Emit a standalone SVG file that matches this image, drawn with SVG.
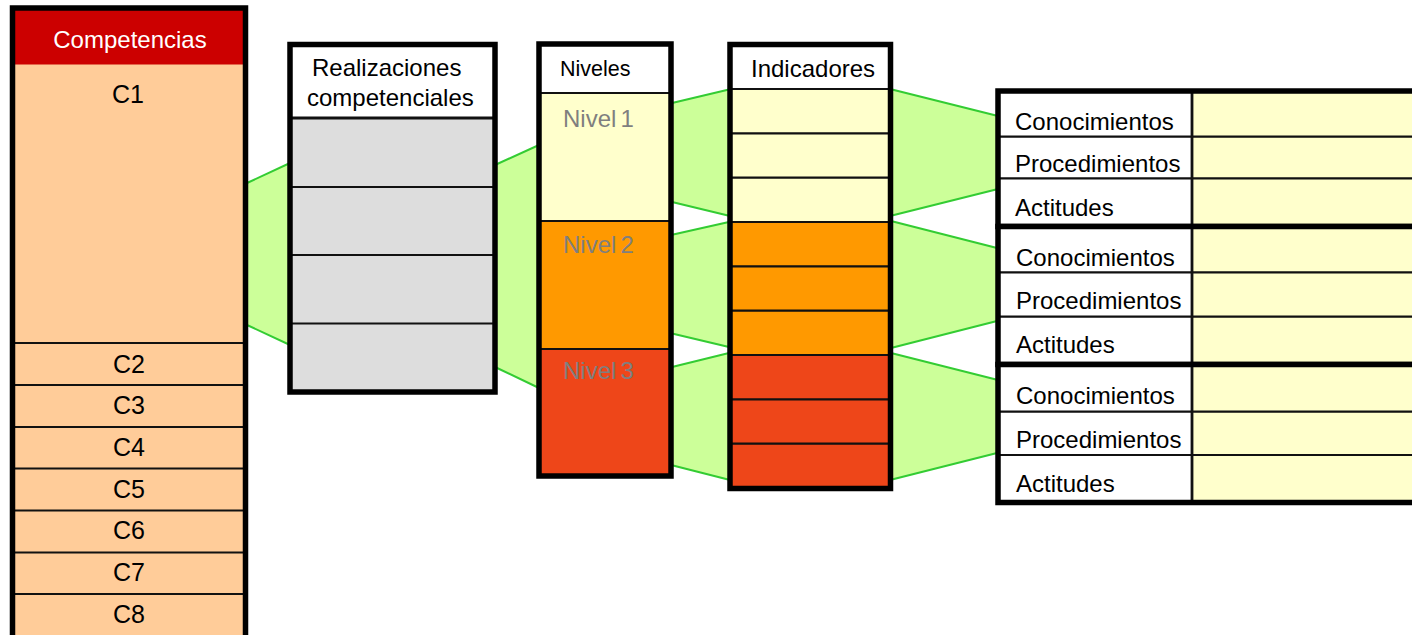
<svg xmlns="http://www.w3.org/2000/svg" width="1412" height="635" viewBox="0 0 1412 635">
<style>
text{font-family:"Liberation Sans",Arial,sans-serif;font-size:24px;fill:#000}
.box{fill:none;stroke:#000;stroke-width:5.5}
.ln{stroke:#111;stroke-width:2.2}
.conn{fill:#CCFF99;stroke:#33CC33;stroke-width:2;stroke-linejoin:round}
.peach{fill:#FFCC99}
.grey{fill:#DDDDDD}
.yel{fill:#FFFFCC}
.org{fill:#FF9900}
.red{fill:#EE4619}
.lvl{fill:#7F7F7F;word-spacing:-2.5px}
.mid{text-anchor:middle}
.c{font-size:25px}
</style>
<g id="connectors">
<polygon class="conn" points="247,183 290,163 290,345 247,325"/>
<polygon class="conn" points="495,165 539,145 539,388 495,367"/>
<polygon class="conn" points="671,103.3 730,89.3 730,216 671,201.7"/>
<polygon class="conn" points="671,235 730,221.7 730,347.3 671,333.3"/>
<polygon class="conn" points="671,367.3 730,352.7 730,480 671,465"/>
<polygon class="conn" points="890,89 998,116 998,189 890,216"/>
<polygon class="conn" points="890,220.7 998,248.3 998,320.7 890,348.3"/>
<polygon class="conn" points="890,352.7 998,380 998,452.7 890,480"/>
</g>
<g id="competencias">
<rect x="12.5" y="8" width="233" height="640" class="peach"/>
<rect x="12.5" y="8" width="233" height="56.5" fill="#CC0000"/>
<line class="ln" x1="12" y1="343" x2="246" y2="343"/>
<line class="ln" x1="12" y1="385" x2="246" y2="385"/>
<line class="ln" x1="12" y1="427" x2="246" y2="427"/>
<line class="ln" x1="12" y1="468.5" x2="246" y2="468.5"/>
<line class="ln" x1="12" y1="510.5" x2="246" y2="510.5"/>
<line class="ln" x1="12" y1="552.5" x2="246" y2="552.5"/>
<line class="ln" x1="12" y1="594" x2="246" y2="594"/>
<rect x="12.5" y="8" width="233" height="640" class="box"/>
<text x="130" y="47.5" class="mid" style="fill:#fff">Competencias</text>
<text x="128" y="103" class="mid c">C1</text>
<text x="129" y="372.7" class="mid c">C2</text>
<text x="129" y="414.3" class="mid c">C3</text>
<text x="129" y="456" class="mid c">C4</text>
<text x="129" y="497.7" class="mid c">C5</text>
<text x="129" y="539.3" class="mid c">C6</text>
<text x="129" y="581" class="mid c">C7</text>
<text x="129" y="623.3" class="mid c">C8</text>
</g>
<g id="realizaciones">
<rect x="290" y="44.5" width="205" height="347.5" fill="#fff"/>
<rect x="290" y="118" width="205" height="274" class="grey"/>
<line class="ln" x1="290" y1="118" x2="495" y2="118" style="stroke-width:3"/>
<line class="ln" x1="290" y1="187" x2="495" y2="187"/>
<line class="ln" x1="290" y1="255" x2="495" y2="255"/>
<line class="ln" x1="290" y1="323.5" x2="495" y2="323.5"/>
<rect x="290" y="44.5" width="205" height="347.5" class="box"/>
<text x="312" y="76">Realizaciones</text>
<text x="307" y="106">competenciales</text>
</g>
<g id="niveles">
<rect x="539" y="44" width="132" height="432" fill="#fff"/>
<rect x="539" y="93" width="132" height="128" class="yel"/>
<rect x="539" y="221" width="132" height="128" class="org"/>
<rect x="539" y="349" width="132" height="127" class="red"/>
<line class="ln" x1="539" y1="93" x2="671" y2="93"/>
<line class="ln" x1="539" y1="221" x2="671" y2="221"/>
<line class="ln" x1="539" y1="349" x2="671" y2="349"/>
<rect x="539" y="44" width="132" height="432" class="box"/>
<text x="560" y="76" style="font-size:21.5px">Niveles</text>
<text x="563" y="127.3" class="lvl">Nivel 1</text>
<text x="563" y="252.7" class="lvl">Nivel 2</text>
<text x="563" y="379.3" class="lvl">Nivel 3</text>
</g>
<g id="indicadores">
<rect x="730" y="44.5" width="160.5" height="444" fill="#fff"/>
<rect x="730" y="89" width="160.5" height="133" class="yel"/>
<rect x="730" y="222" width="160.5" height="133" class="org"/>
<rect x="730" y="355" width="160.5" height="133.5" class="red"/>
<line class="ln" x1="730" y1="89" x2="890" y2="89"/>
<line class="ln" x1="730" y1="133.3" x2="890" y2="133.3"/>
<line class="ln" x1="730" y1="177.7" x2="890" y2="177.7"/>
<line class="ln" x1="730" y1="222" x2="890" y2="222"/>
<line class="ln" x1="730" y1="266.3" x2="890" y2="266.3"/>
<line class="ln" x1="730" y1="310.7" x2="890" y2="310.7"/>
<line class="ln" x1="730" y1="355" x2="890" y2="355"/>
<line class="ln" x1="730" y1="399.3" x2="890" y2="399.3"/>
<line class="ln" x1="730" y1="443.7" x2="890" y2="443.7"/>
<rect x="730" y="44.5" width="160.5" height="444" class="box"/>
<text x="751" y="76.7">Indicadores</text>
</g>
<g id="tabla1">
<rect x="998" y="91" width="194" height="135.5" fill="#fff"/>
<rect x="1192" y="91" width="240" height="135.5" class="yel"/>
<line class="ln" x1="998" y1="136.7" x2="1412" y2="136.7"/>
<line class="ln" x1="998" y1="178.3" x2="1412" y2="178.3"/>
<line class="ln" x1="1192" y1="91" x2="1192" y2="226.5" style="stroke-width:2.8"/>
<rect x="998" y="91" width="500" height="135.5" class="box"/>
<text x="1015" y="130">Conocimientos</text>
<text x="1015" y="171.7">Procedimientos</text>
<text x="1015" y="215.7">Actitudes</text>
</g>
<g id="tabla2">
<rect x="998" y="226.5" width="194" height="138" fill="#fff"/>
<rect x="1192" y="226.5" width="240" height="138" class="yel"/>
<line class="ln" x1="998" y1="272.3" x2="1412" y2="272.3"/>
<line class="ln" x1="998" y1="316.7" x2="1412" y2="316.7"/>
<line class="ln" x1="1192" y1="226.5" x2="1192" y2="364.5" style="stroke-width:2.8"/>
<rect x="998" y="226.5" width="500" height="138" class="box"/>
<text x="1016" y="265.7">Conocimientos</text>
<text x="1016" y="309.3">Procedimientos</text>
<text x="1016" y="353.3">Actitudes</text>
</g>
<g id="tabla3">
<rect x="998" y="364.5" width="194" height="138" fill="#fff"/>
<rect x="1192" y="364.5" width="240" height="138" class="yel"/>
<line class="ln" x1="998" y1="411.7" x2="1412" y2="411.7"/>
<line class="ln" x1="998" y1="455" x2="1412" y2="455"/>
<line class="ln" x1="1192" y1="364.5" x2="1192" y2="502.5" style="stroke-width:2.8"/>
<rect x="998" y="364.5" width="500" height="138" class="box"/>
<text x="1016" y="404.3">Conocimientos</text>
<text x="1016" y="447.7">Procedimientos</text>
<text x="1016" y="491.7">Actitudes</text>
</g>
</svg>
